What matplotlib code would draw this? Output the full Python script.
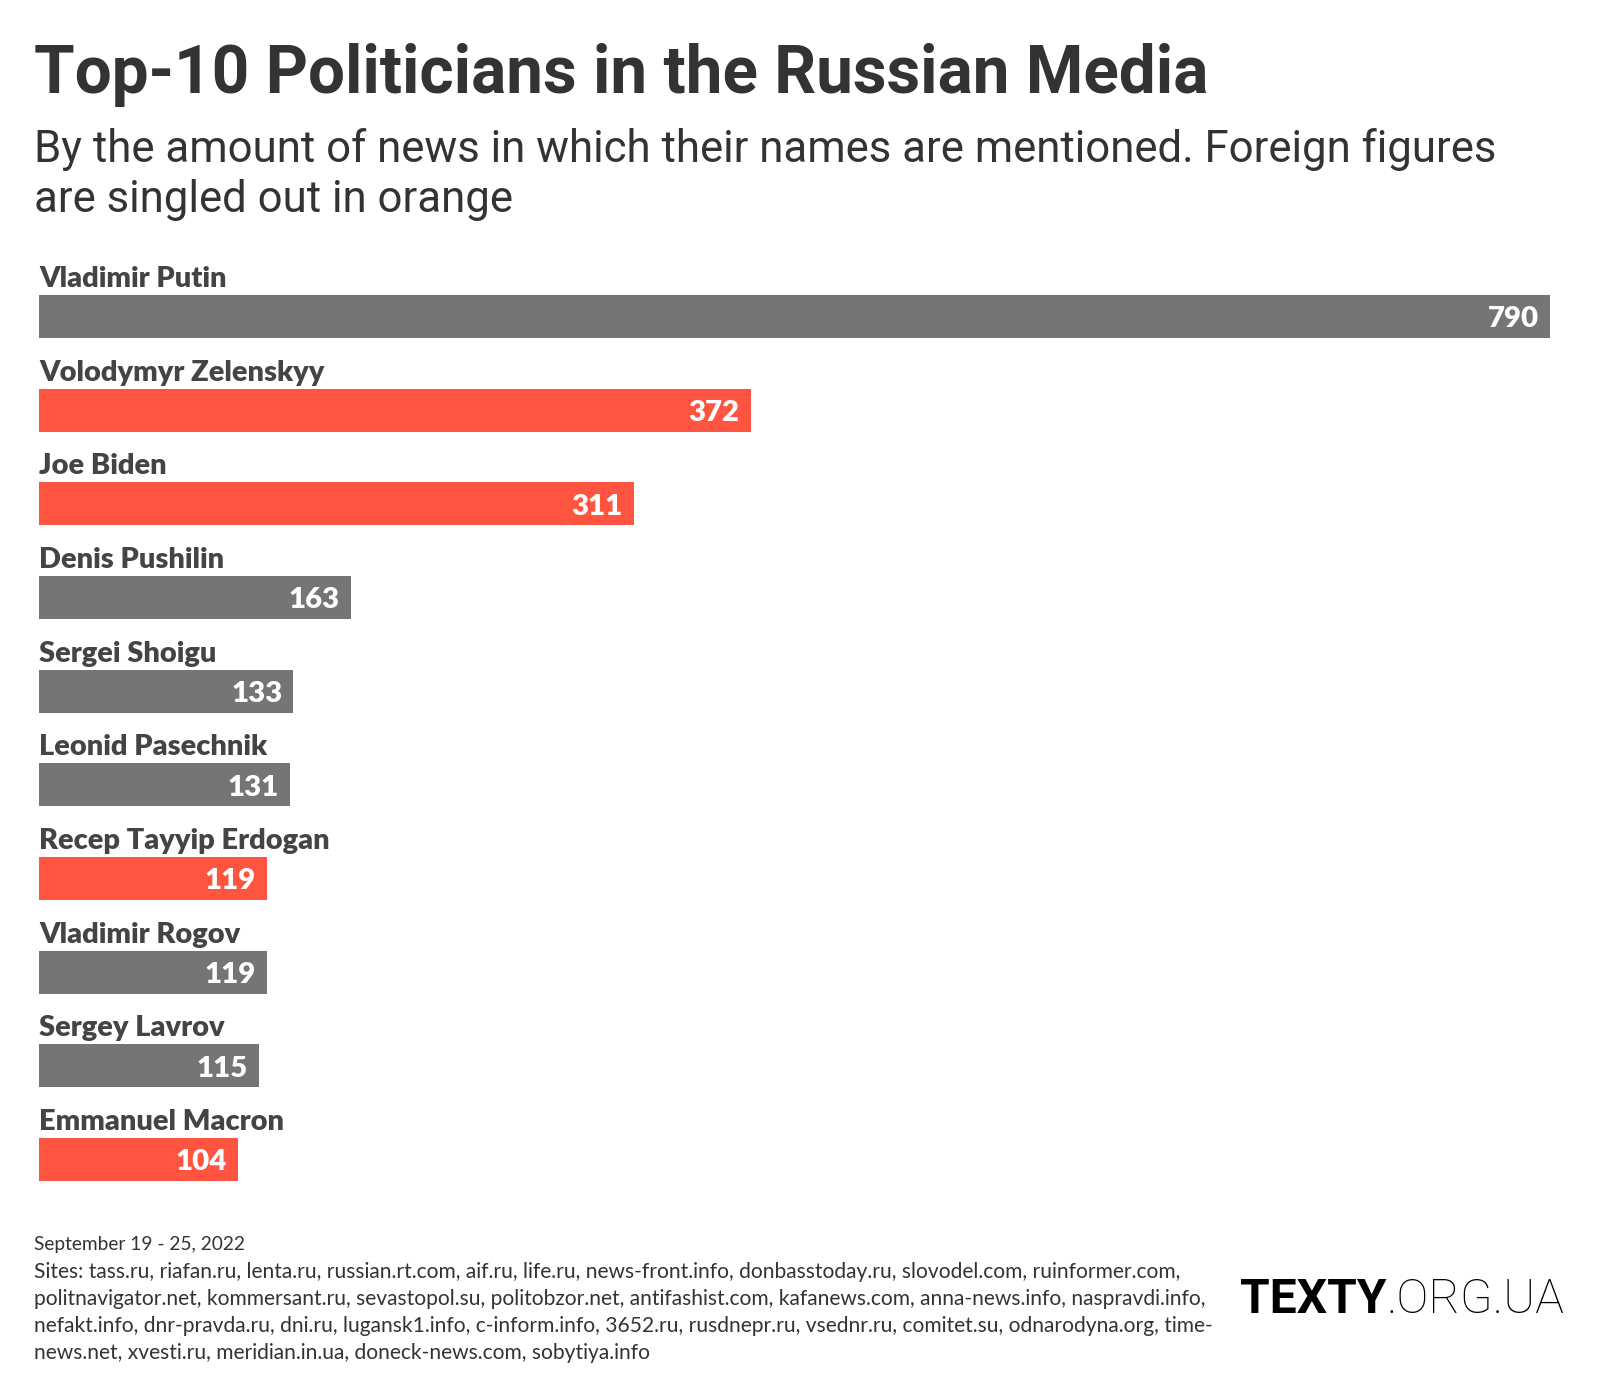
import matplotlib
matplotlib.use("Agg")
import matplotlib.pyplot as plt

names = ["Vladimir Putin", "Volodymyr Zelenskyy", "Joe Biden", "Denis Pushilin",
         "Sergei Shoigu", "Leonid Pasechnik", "Recep Tayyip Erdogan",
         "Vladimir Rogov", "Sergey Lavrov", "Emmanuel Macron"]
values = [790, 372, 311, 163, 133, 131, 119, 119, 115, 104]
foreign = [False, True, True, False, False, False, True, False, False, True]

title = "Top-10 Politicians in the Russian Media"
subtitle_lines = ["By the amount of news in which their names are mentioned. Foreign figures",
                  "are singled out in orange"]
date_line = "September 19 - 25, 2022"
sites_lines = [
    "Sites: tass.ru, riafan.ru, lenta.ru, russian.rt.com, aif.ru, life.ru, news-front.info, donbasstoday.ru, slovodel.com, ruinformer.com,",
    "politnavigator.net, kommersant.ru, sevastopol.su, politobzor.net, antifashist.com, kafanews.com, anna-news.info, naspravdi.info,",
    "nefakt.info, dnr-pravda.ru, dni.ru, lugansk1.info, c-inform.info, 3652.ru, rusdnepr.ru, vsednr.ru, comitet.su, odnarodyna.org, time-",
    "news.net, xvesti.ru, meridian.in.ua, doneck-news.com, sobytiya.info",
]

GRAY = "#757575"
ORANGE = "#FF5540"
W, H = 1600, 1400
fig = plt.figure(figsize=(16, 14), dpi=100)
fig.patch.set_facecolor("white")
renderer = fig.canvas.get_renderer()


def fx(px):
    return px / W


def fy(py):
    return 1 - py / H


def fit(t, width_px):
    bb = t.get_window_extent(renderer=renderer)
    t.set_fontsize(t.get_fontsize() * width_px / bb.width)
    return t.get_fontsize()


# Title
t = fig.text(fx(34), fy(93), title, fontsize=50, fontweight="bold",
             family="Roboto", color="#333333", va="baseline", ha="left")
fit(t, 1175)
# Subtitle
s1 = fig.text(fx(34), fy(162), subtitle_lines[0], fontsize=28, family="Roboto",
              color="#333333", va="baseline", ha="left")
fs = fit(s1, 1463)
fig.text(fx(34), fy(212), subtitle_lines[1], fontsize=fs, family="Roboto",
         color="#333333", va="baseline", ha="left")

# Bars
bar_top, bar_bot = 295, 1181
half = 0.23
ax = fig.add_axes([fx(39), fy(bar_bot), fx(1550) - fx(39), (bar_bot - bar_top) / H])
ypos = list(range(len(names)))
colors = [ORANGE if f else GRAY for f in foreign]
ax.barh(ypos, values, height=2 * half, color=colors, align="center")
ax.set_xlim(0, max(values))
ax.set_ylim(len(names) - 1 + half, -half)
ax.axis("off")

unit_px = (bar_bot - bar_top) / (len(names) - 1 + 2 * half)
gap = 8 / unit_px
px_per_val = (1550 - 39) / max(values)

probe = fig.text(0, 0, names[0], fontsize=20, fontweight="heavy", family="Lato")
name_fs = fit(probe, 189)
probe.remove()
probe = fig.text(0, 0, str(values[0]), fontsize=20, fontweight="heavy", family="Lato")
val_fs = fit(probe, 51)
probe.remove()

for i, (n, v) in enumerate(zip(names, values)):
    ax.text(0, i - half - gap, n, fontsize=name_fs, fontweight="heavy", family="Lato",
            color="#444444", va="baseline", ha="left", clip_on=False)
    ax.text(v - 11 / px_per_val, i + 0.03, str(v), fontsize=val_fs, fontweight="heavy",
            family="Lato", color="white", va="center", ha="right")

# Footer
f0 = fig.text(fx(34), fy(1250), date_line, fontsize=14, family="Lato",
              color="#333333", va="baseline", ha="left")
fit(f0, 212)
base = [1278, 1305, 1332, 1359]
sl = fig.text(fx(34), fy(base[0]), sites_lines[0], fontsize=14, family="Lato",
              color="#333333", va="baseline", ha="left")
ffs2 = fit(sl, 1152)
for b, line in zip(base[1:], sites_lines[1:]):
    fig.text(fx(34), fy(b), line, fontsize=ffs2, family="Lato",
             color="#333333", va="baseline", ha="left")

# Logo
logo_fs = 38
lg = fig.text(fx(1240), fy(1313), "TEXTY", fontsize=logo_fs, fontweight="bold",
              family="Roboto", color="black", va="baseline", ha="left")
lg2 = fig.text(0, fy(1313), ".ORG.UA", fontsize=logo_fs, fontweight="light",
               family="Roboto", color="black", va="baseline", ha="left")
w1 = lg.get_window_extent(renderer=renderer).width
w2 = lg2.get_window_extent(renderer=renderer).width
scale = 324 / (w1 + w2)
lg.set_fontsize(logo_fs * scale)
lg2.set_fontsize(logo_fs * scale)
bb = lg.get_window_extent(renderer=renderer)
lg2.set_x(bb.x1 / W)

fig.savefig("out.png", dpi=100, facecolor="white")
